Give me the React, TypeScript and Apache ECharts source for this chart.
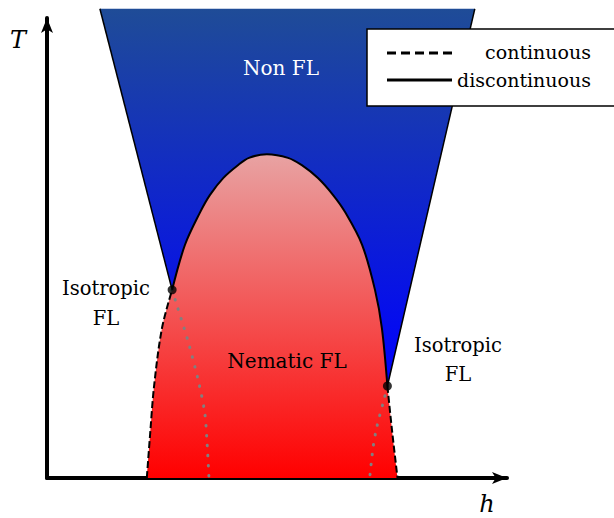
import React, { useEffect, useRef } from 'react';
import * as echarts from 'echarts';

// Non-FL region (blue wedge) corners: h, T
const BLUE_H = [1.15, 9.3, 7.4, 2.72];
const BLUE_T = [10.2, 10.2, 2.0, 4.09];

// Nematic dome boundary (left foot -> top -> right foot)
const DOME_H = [2.17, 2.24, 2.33, 2.5, 2.72, 3.0, 3.33, 3.54, 3.83, 4.15, 4.39, 4.78, 5.24, 5.54, 5.89, 6.22, 6.48, 6.85, 7.13, 7.28, 7.4, 7.5, 7.62];
const DOME_T = [0, 0.93, 2.02, 3.26, 4.09, 5.07, 5.78, 6.15, 6.52, 6.8, 6.96, 7.04, 6.96, 6.8, 6.52, 6.15, 5.78, 5.07, 4.09, 3.26, 2.0, 1.04, 0];
const LEFT_CRIT = 4;
const RIGHT_CRIT = 20;

// Dotted (gray) lines inside the dome
const DOT_LEFT_H = [2.72, 2.8, 3.07, 3.3, 3.43, 3.48, 3.52];
const DOT_LEFT_T = [4.09, 3.83, 2.96, 2.07, 1.41, 0.76, 0.02];
const DOT_RIGHT_H = [7.4, 7.33, 7.17, 7.09, 7.02];
const DOT_RIGHT_T = [2.0, 1.72, 1.11, 0.67, 0.05];

const LEGEND_LABELS = ['continuous', 'discontinuous'];

const FONT = 'DejaVu Serif';

const zip = (a: number[], b: number[]) => a.map((v, i) => [v, b[i]]);

const txt = (x: number, y: number, text: string, extra: any = {}) => ({
  type: 'text',
  x,
  y,
  z: 50,
  style: {
    text,
    fontFamily: FONT,
    fontSize: 20,
    fill: '#000',
    align: 'center',
    verticalAlign: 'middle',
    ...extra,
  },
});

export default function App() {
  const ref = useRef<HTMLDivElement>(null);
  useEffect(() => {
    if (!ref.current) return;
    const chart = echarts.init(ref.current, null, { renderer: 'svg' });
    const dome = zip(DOME_H, DOME_T);
    const axisCommon = {
      type: 'value' as const,
      min: 0,
      max: 10,
      axisLine: {
        show: true,
        onZero: false,
        symbol: ['none', 'arrow'],
        symbolSize: [9, 15],
        lineStyle: { color: '#000', width: 4 },
      },
      axisTick: { show: false },
      axisLabel: { show: false },
      splitLine: { show: false },
    };
    const SM = 0.33;
    chart.setOption({
      animation: false,
      backgroundColor: '#fff',
      textStyle: { fontFamily: FONT },
      grid: { left: 47, right: 107, top: 18, bottom: 40 },
      xAxis: axisCommon,
      yAxis: axisCommon,
      series: [
        {
          type: 'custom',
          silent: true,
          data: [[0, 0]],
          renderItem: (_p: any, api: any) => {
            const c = (p: number[]) => api.coord(p);
            const domePts = dome.map(c);
            const seg = (i: number, j: number) => {
              const a = c([BLUE_H[i], BLUE_T[i]]);
              const b = c([BLUE_H[j], BLUE_T[j]]);
              return { x1: a[0], y1: a[1], x2: b[0], y2: b[1] };
            };
            return {
              type: 'group',
              children: [
                {
                  type: 'polygon',
                  shape: { points: BLUE_H.map((h, i) => c([h, BLUE_T[i]])) },
                  style: {
                    stroke: 'none',
                    fill: new echarts.graphic.LinearGradient(0, 0, 0, 1, [
                      { offset: 0, color: '#1f4c97' },
                      { offset: 1, color: '#0000ff' },
                    ]),
                  },
                },
                { type: 'line', shape: seg(0, 3), style: { stroke: '#000', lineWidth: 1.5, fill: 'none' } },
                { type: 'line', shape: seg(1, 2), style: { stroke: '#000', lineWidth: 1.5, fill: 'none' } },
                {
                  type: 'polyline',
                  shape: { points: domePts, smooth: SM },
                  style: {
                    stroke: 'none',
                    fill: new echarts.graphic.LinearGradient(0, 0, 0, 1, [
                      { offset: 0, color: '#e8a3a3' },
                      { offset: 1, color: '#ff0000' },
                    ]),
                  },
                },
                {
                  type: 'polyline',
                  shape: { points: zip(DOT_LEFT_H, DOT_LEFT_T).map(c), smooth: 0.3 },
                  style: { stroke: '#808080', lineWidth: 3, lineDash: [0.5, 9.5], lineCap: 'round', fill: 'none' },
                },
                {
                  type: 'polyline',
                  shape: { points: zip(DOT_RIGHT_H, DOT_RIGHT_T).map(c), smooth: 0.3 },
                  style: { stroke: '#808080', lineWidth: 3, lineDash: [0.5, 9.5], lineCap: 'round', fill: 'none' },
                },
                {
                  type: 'polyline',
                  shape: { points: domePts.slice(0, LEFT_CRIT + 1), smooth: SM },
                  style: { stroke: '#000', lineWidth: 2, lineDash: [7, 3], fill: 'none' },
                },
                {
                  type: 'polyline',
                  shape: { points: domePts.slice(LEFT_CRIT, RIGHT_CRIT + 1), smooth: SM },
                  style: { stroke: '#000', lineWidth: 2, fill: 'none' },
                },
                {
                  type: 'polyline',
                  shape: { points: domePts.slice(RIGHT_CRIT), smooth: SM },
                  style: { stroke: '#000', lineWidth: 2, lineDash: [7, 3], fill: 'none' },
                },
              ],
            };
          },
        },
        {
          type: 'scatter', symbolSize: 9, silent: true, z: 5,
          itemStyle: { color: '#000' },
          data: [dome[LEFT_CRIT], dome[RIGHT_CRIT]],
        },
      ],
      graphic: [
        txt(18, 40, 'T', { fontStyle: 'italic', fontSize: 24 }),
        txt(487, 504, 'h', { fontStyle: 'italic', fontSize: 24 }),
        txt(281, 68, 'Non FL', { fill: '#fff' }),
        txt(287, 361, 'Nematic FL'),
        txt(106, 303, 'Isotropic\nFL', { lineHeight: 30, fontSize: 19.5 }),
        txt(458, 360, 'Isotropic\nFL', { lineHeight: 29, fontSize: 19.5 }),
        { type: 'rect', z: 60, shape: { x: 367, y: 29, width: 260, height: 77 }, style: { fill: '#fff', stroke: '#000', lineWidth: 1.5 } },
        { type: 'line', z: 61, shape: { x1: 387, y1: 53, x2: 452, y2: 53 }, style: { stroke: '#000', lineWidth: 3, lineDash: [9, 5] } },
        { type: 'line', z: 61, shape: { x1: 387, y1: 80, x2: 452, y2: 80 }, style: { stroke: '#000', lineWidth: 3 } },
        { ...txt(591, 52, LEGEND_LABELS[0], { align: 'right', fontSize: 19 }), z: 61 },
        { ...txt(591, 80, LEGEND_LABELS[1], { align: 'right', fontSize: 19 }), z: 61 },
      ],
    });
    return () => chart.dispose();
  }, []);
  return (
    <div
      ref={ref}
      style={{ position: 'absolute', left: 0, top: 0, width: 614, height: 518 }}
    />
  );
}
